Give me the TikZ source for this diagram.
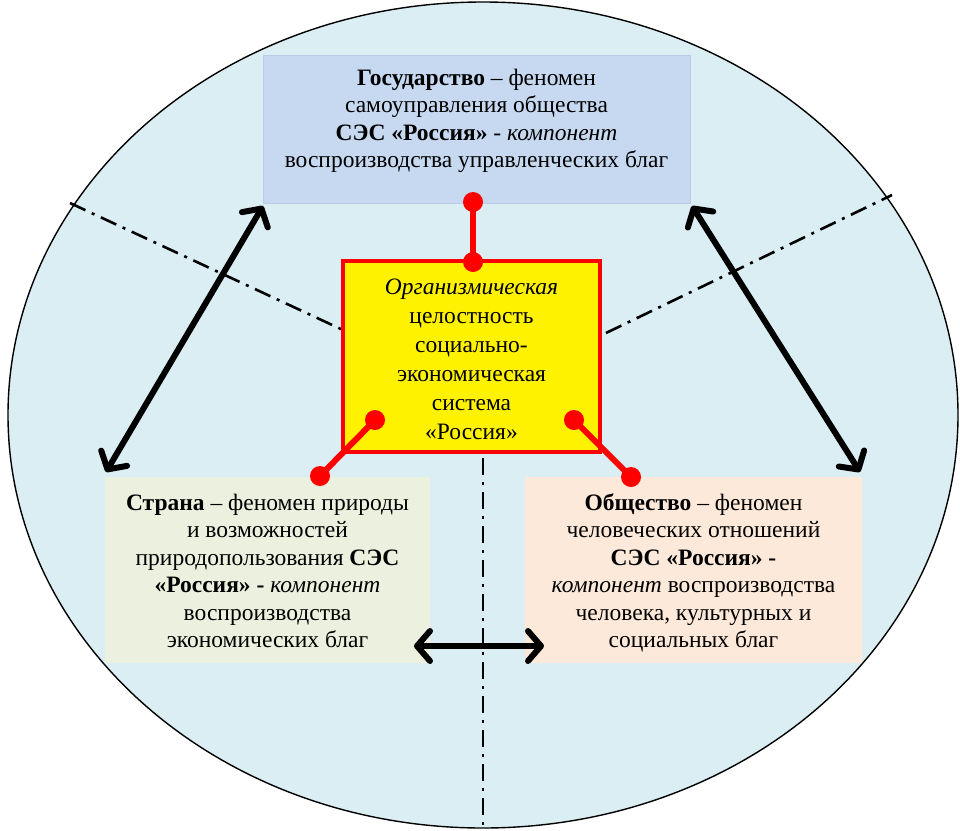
\documentclass[tikz,border=0pt]{standalone}
\usepackage{fontspec}
\setmainfont{Liberation Serif}
\newfontfamily\tnr{Liberation Serif}
\usetikzlibrary{arrows.meta,shapes.geometric}
\definecolor{ellfill}{HTML}{DAEEF3}
\definecolor{topblue}{HTML}{C6D9F1}
\definecolor{topedge}{HTML}{B9CDE5}
\definecolor{leftgreen}{HTML}{EBF1DE}
\definecolor{rightpeach}{HTML}{FDE9D9}
\tikzset{
  box/.style={rectangle, inner sep=0pt},
  txt/.style={align=center, font=\tnr\fontsize{23.5}{27.5}\selectfont, inner sep=0pt},
  ctxt/.style={align=center, font=\tnr\fontsize{23.5}{29}\selectfont, inner sep=0pt},
  dashdot/.style={line width=2.6pt, dash pattern=on 17pt off 7pt on 3pt off 7pt},
  dblarrow/.style={line width=6pt, line cap=round, {Straight Barb[length=13pt,width=30pt,round]}-{Straight Barb[length=13pt,width=30pt,round]}},
  redline/.style={red, line width=6pt},
  dot/.style={circle, fill=red, minimum size=20pt, inner sep=0pt}
}
\begin{document}
\begin{tikzpicture}[x=1pt,y=-1pt]
\useasboundingbox (0,0) rectangle (960,830);
% ellipse
\node[ellipse, draw=black, line width=1.4pt, fill=ellfill, minimum width=950, minimum height=826, inner sep=0pt] (ell) at (483,415) {};
% dash-dot lines
\coordinate (l1) at (70,203);
\coordinate (l2) at (343,330);
\coordinate (r1) at (606,333);
\coordinate (r2) at (892,195);
\coordinate (v1) at (483,458);
\coordinate (v2) at (483,828);
\draw[dashdot] (l1) -- (l2);
\draw[dashdot] (r1) -- (r2);
\draw[dashdot] (v1) -- (v2);
% boxes
\node[box, fill=topblue, draw=topedge, line width=0.8pt, minimum width=427, minimum height=148] (gos) at (476.5,129) {};
\node[txt] (gostxt) at (476.5,121) {\textbf{Государство} – феномен\\самоуправления общества\\\textbf{СЭС «Россия»} - \textit{компонент}\\воспроизводства управленческих благ};
\node[box, fill=yellow, draw=red, line width=4pt, minimum width=257, minimum height=191] (org) at (471.5,356.5) {};
\node[ctxt] (orgtxt) at (471.5,359) {\textit{Организмическая}\\целостность\\социально-\\экономическая\\система\\«Россия»};
\node[box, fill=leftgreen, minimum width=325, minimum height=186] (str) at (267.5,570) {};
\node[txt] (strtxt) at (267.5,571) {\textbf{Страна} – феномен природы\\и возможностей\\природопользования \textbf{СЭС}\\\textbf{«Россия» -} \textit{компонент}\\воспроизводства\\экономических благ};
\node[box, fill=rightpeach, minimum width=337, minimum height=186] (obs) at (693.5,570) {};
\node[txt] (obstxt) at (693.5,573) {\textbf{Общество} – феномен\\человеческих отношений\\\textbf{СЭС «Россия» -}\\\textit{компонент} воспроизводства\\человека, культурных и\\социальных благ};
% red connectors
\node[dot] (d1) at (473,202) {};
\node[dot] (d2) at (473,262) {};
\node[dot] (d3) at (375,420) {};
\node[dot] (d4) at (320,476) {};
\node[dot] (d5) at (574,420) {};
\node[dot] (d6) at (631,477) {};
\draw[redline] (d1.center) -- (d2.center);
\draw[redline] (d3.center) -- (d4.center);
\draw[redline] (d5.center) -- (d6.center);
% arrows
\coordinate (a1) at (263,206);
\coordinate (a2) at (106,472);
\coordinate (b1) at (692,206);
\coordinate (b2) at (860,472);
\coordinate (c1) at (414,646);
\coordinate (c2) at (544,646);
\draw[dblarrow] (a1) -- (a2);
\draw[dblarrow] (b1) -- (b2);
\draw[dblarrow] (c1) -- (c2);
\end{tikzpicture}
\end{document}
